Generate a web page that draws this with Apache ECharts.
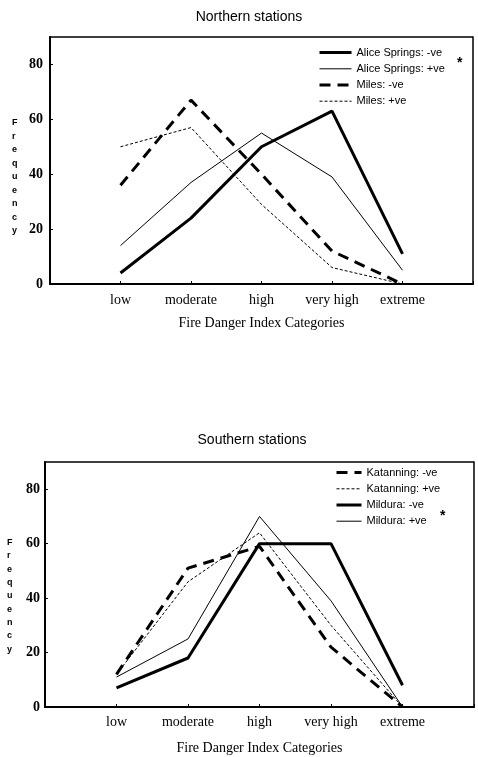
<!DOCTYPE html>
<html><head><meta charset="utf-8">
<script src="https://cdn.jsdelivr.net/npm/echarts@6/dist/echarts.min.js"></script>
<style>html,body{margin:0;padding:0;background:#fff}#c{width:478px;height:757px}</style>
</head><body><div id="c"></div>
<script>
// ---- data ----
const categories = ['low', 'moderate', 'high', 'very high', 'extreme'];
const yTickValues = [0, 20, 40, 60, 80];
const northTitle = 'Northern stations';
const southTitle = 'Southern stations';
const xAxisName = 'Fire Danger Index Categories';
const yAxisName = 'Frequency';

const aliceNeg = [4, 24, 50, 63, 11];
const alicePos = [14, 37, 55, 39, 5];
const milesNeg = [36, 67, 40, 12, 0];
const milesPos = [50, 57, 29, 6, 0];

const katanningNeg = [12, 51, 59, 22, 0];
const katanningPos = [12, 46, 64, 30, 0];
const milduraNeg = [7, 18, 60, 60, 8];
const milduraPos = [11, 25, 70, 39, 0];

// ---- build ----
const pad = arr => [null, ...arr, null];
const axisCats = ['', ...categories, ''];
const serif = 'Liberation Serif';
const sans = 'Liberation Sans';

const styles = {
  thick: { width: 3, type: 'solid' },
  thin: { width: 1, type: 'solid' },
  thickDash: { width: 3, type: [11, 7] },
  thinDot: { width: 1, type: [3, 2] }
};

function mkSeries(name, data, st, idx) {
  return {
    name, type: 'line', data: pad(data), xAxisIndex: idx, yAxisIndex: idx,
    symbol: 'none', showSymbol: false, connectNulls: false, silent: true,
    lineStyle: Object.assign({ color: '#000' }, styles[st]),
    itemStyle: { color: '#000' },
    animation: false
  };
}
function legendItem(name, st) {
  return { name, lineStyle: Object.assign({ color: '#000' }, styles[st]) };
}

const grids = [
  { left: 50, right: 5, top: 37, bottom: 473 },
  { left: 45, right: 4, top: 462, bottom: 50 }
];

function mkX(idx, margin, gap) {
  return {
    type: 'category', gridIndex: idx, data: axisCats, boundaryGap: false,
    axisLine: { lineStyle: { color: '#000', width: 2 } },
    axisTick: { show: true, inside: true, length: 3, lineStyle: { color: '#000' } },
    axisLabel: { color: '#000', fontFamily: serif, fontSize: 14, margin: margin, interval: 0 },
    name: xAxisName, nameLocation: 'middle', nameGap: gap,
    nameTextStyle: { color: '#000', fontFamily: serif, fontSize: 14 },
    splitLine: { show: false }
  };
}
function mkY(idx, margin) {
  return {
    type: 'value', gridIndex: idx, min: 0, max: 90, interval: 20,
    axisLine: { show: true, lineStyle: { color: '#000', width: 2 } },
    axisTick: { show: true, inside: true, length: 3, lineStyle: { color: '#000' } },
    axisLabel: { color: '#000', fontFamily: serif, fontSize: 14, fontWeight: 'bold', margin: margin, showMaxLabel: false,
      formatter: v => yTickValues.includes(v) ? String(v) : '' },
    splitLine: { show: false }
  };
}

const legendText = { color: '#000', fontFamily: sans, fontSize: 11 };
const legendCommon = { orient: 'vertical', itemHeight: 14, itemGap: 5, padding: 0,
  textStyle: legendText, selectedMode: false,
  itemStyle: { opacity: 0, borderWidth: 0 } };

const option = {
  backgroundColor: '#fff',
  animation: false,
  title: [
    { text: northTitle, left: 244, top: 5, textAlign: 'center',
      textStyle: { fontFamily: sans, fontSize: 14, fontWeight: 'normal', color: '#000' } },
    { text: southTitle, left: 247, top: 428, textAlign: 'center',
      textStyle: { fontFamily: sans, fontSize: 14, fontWeight: 'normal', color: '#000' } }
  ],
  grid: grids.map(g => Object.assign({ show: true, borderColor: '#000', borderWidth: 1.5, backgroundColor: 'transparent' }, g)),
  xAxis: [mkX(0, 9, 32), mkX(1, 8, 34)],
  yAxis: [mkY(0, 7), mkY(1, 5)],
  legend: [
    Object.assign({ left: 318, top: 47, itemWidth: 32,
      data: [legendItem('Alice Springs: -ve', 'thick'), legendItem('Alice Springs: +ve', 'thin'),
             legendItem('Miles: -ve', 'thickDash'), legendItem('Miles: +ve', 'thinDot')] }, legendCommon),
    Object.assign({ left: 335, top: 467, itemWidth: 25,
      data: [legendItem('Katanning: -ve', 'thickDash'), legendItem('Katanning: +ve', 'thinDot'),
             legendItem('Mildura: -ve', 'thick'), legendItem('Mildura: +ve', 'thin')] }, legendCommon)
  ],
  graphic: [
    { type: 'text', left: 12, top: 116, style: { text: yAxisName.split('').join('\n'), font: 'bold 9px ' + sans, lineHeight: 13.5, fill: '#000', align: 'center' } },
    { type: 'text', left: 7, top: 536, style: { text: yAxisName.split('').join('\n'), font: 'bold 9px ' + sans, lineHeight: 13.3, fill: '#000', align: 'center' } },
    { type: 'text', left: 457, top: 56, style: { text: '*', font: 'bold 14px ' + sans, fill: '#000' } },
    { type: 'text', left: 440, top: 509, style: { text: '*', font: 'bold 14px ' + sans, fill: '#000' } }
  ],
  series: [
    mkSeries('Alice Springs: -ve', aliceNeg, 'thick', 0),
    mkSeries('Alice Springs: +ve', alicePos, 'thin', 0),
    mkSeries('Miles: -ve', milesNeg, 'thickDash', 0),
    mkSeries('Miles: +ve', milesPos, 'thinDot', 0),
    mkSeries('Katanning: -ve', katanningNeg, 'thickDash', 1),
    mkSeries('Katanning: +ve', katanningPos, 'thinDot', 1),
    mkSeries('Mildura: -ve', milduraNeg, 'thick', 1),
    mkSeries('Mildura: +ve', milduraPos, 'thin', 1)
  ]
};

const chart = echarts.init(document.getElementById('c'), null, { renderer: 'canvas' });
chart.setOption(option);
</script>
</body></html>
